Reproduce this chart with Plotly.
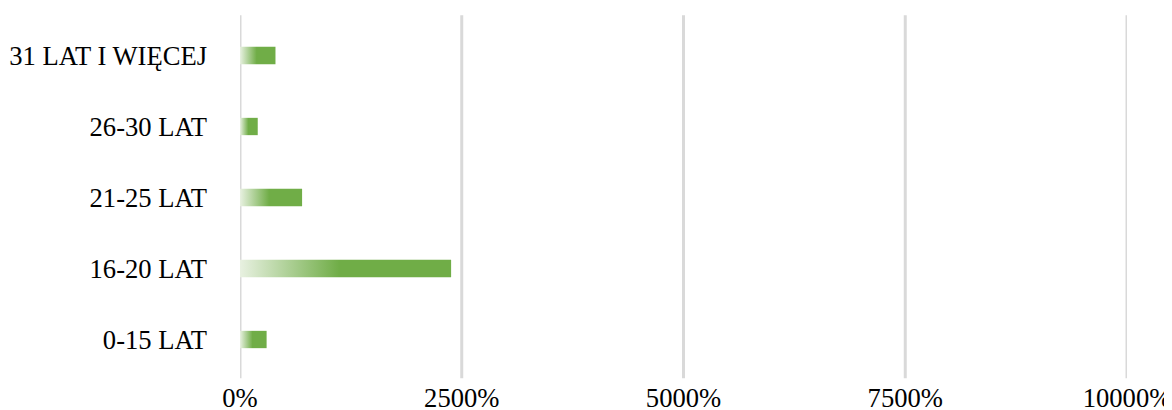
import plotly.graph_objects as go

categories = ["0-15 LAT", "16-20 LAT", "21-25 LAT", "26-30 LAT", "31 LAT I WIĘCEJ"]
values = [300, 2380, 700, 200, 400]
tick_vals = [0, 2500, 5000, 7500, 10000]
tick_text = ["0%", "2500%", "5000%", "7500%", "10000%"]

# page body adds an 8px offset; size the figure to fit the window
W, H = 1164, 402
ml, mr, mt, mb = 232, 45.3, 11.8, 35.2
bar_w = 0.244
light, green = "#e8f1e1", "#70ad47"

fig = go.Figure()
for i, (c, v) in enumerate(zip(categories, values)):
    y0, y1 = i - bar_w / 2, i + bar_w / 2
    fig.add_trace(go.Scatter(
        x=[0, v, v, 0, 0], y=[y0, y0, y1, y1, y0],
        mode="lines", line=dict(width=0), fill="toself",
        fillgradient=dict(type="horizontal",
                          colorscale=[[0, light], [0.47, green], [1, green]]),
        hoverinfo="text", text=c, showlegend=False,
    ))

plot_h = H - mt - mb
ext_top = 4.8 / plot_h
ext_bot = 3.3 / plot_h
for tv in tick_vals:
    fig.add_shape(type="line", xref="x", yref="paper", x0=tv, x1=tv,
                  y0=-ext_bot, y1=1 + ext_top,
                  line=dict(color="#d9d9d9", width=3), layer="below")

fig.update_layout(
    width=W, height=H,
    template="none",
    paper_bgcolor="white", plot_bgcolor="white",
    margin=dict(l=ml, r=mr, t=mt, b=mb, autoexpand=False),
    font=dict(family="Liberation Serif", size=26.6, color="#000000"),
    xaxis=dict(range=[0, 10000], tickvals=tick_vals, ticktext=tick_text,
               showgrid=False, zeroline=False, showline=False,
               ticks="", ticklabelstandoff=4, automargin=False, fixedrange=True),
    yaxis=dict(range=[-0.5, len(categories) - 0.5],
               tickvals=list(range(len(categories))), ticktext=categories,
               showgrid=False, zeroline=False, showline=False,
               ticks="", ticklabelstandoff=32, automargin=False, fixedrange=True),
)

fig.write_html("out.html")
